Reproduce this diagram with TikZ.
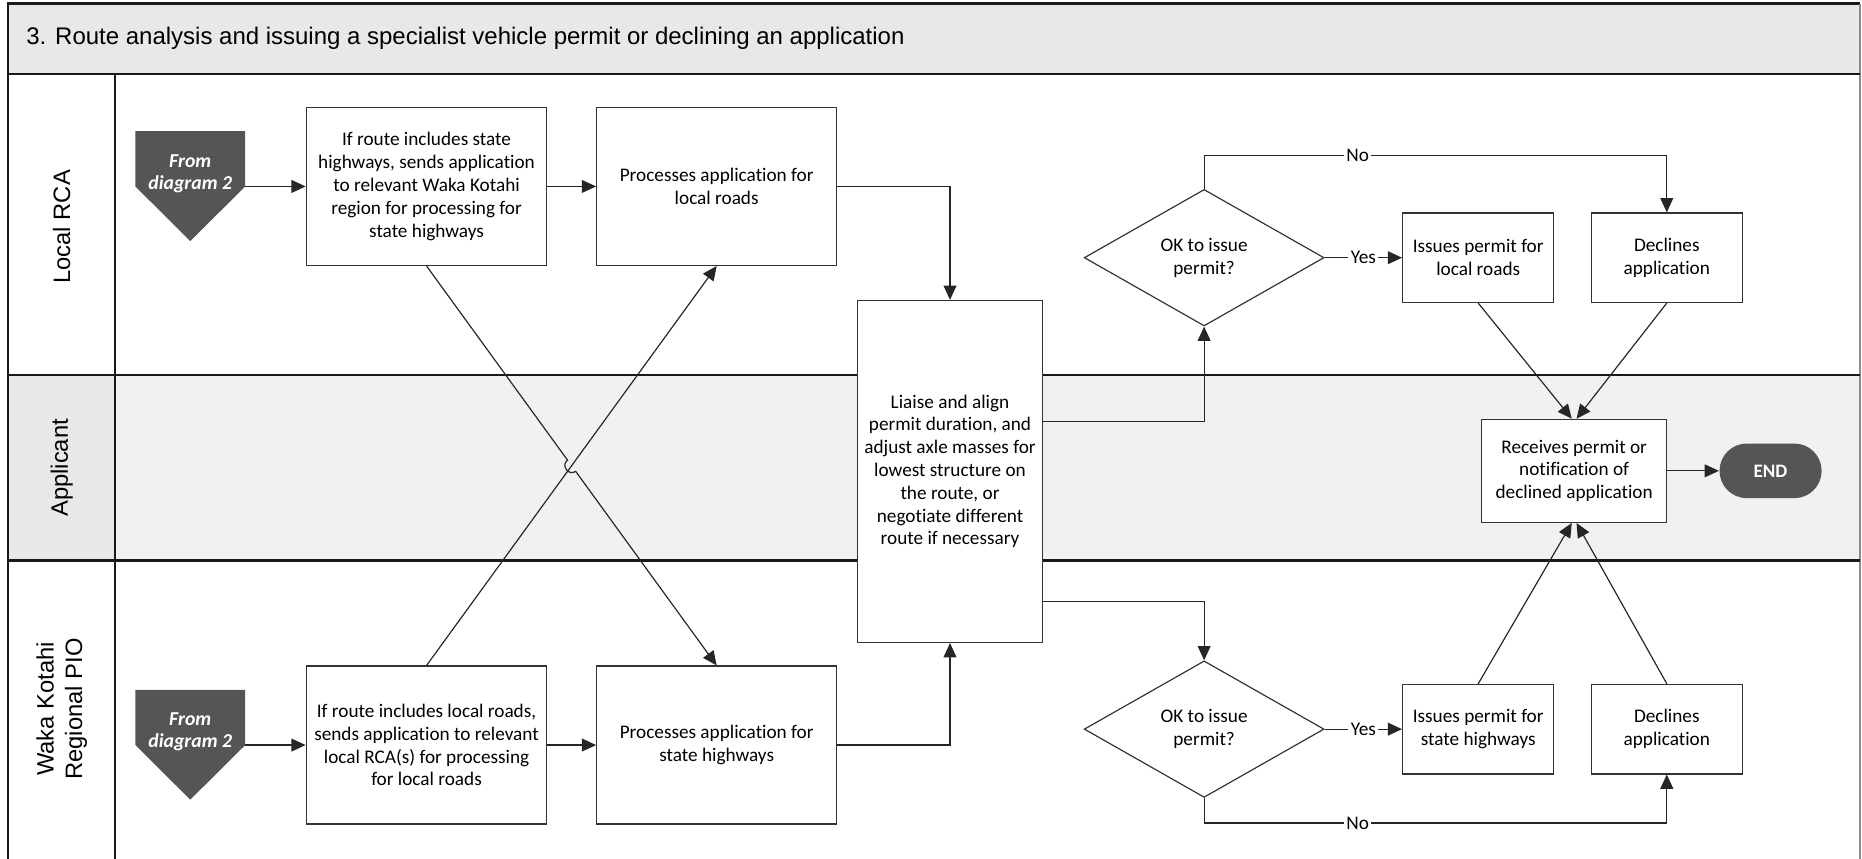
\documentclass[tikz,border=0pt]{standalone}
\usepackage{fontspec}
\setmainfont{Carlito}[Ligatures={NoCommon}]
\newfontfamily\arialfont{Liberation Sans}
\usetikzlibrary{arrows.meta,shapes.geometric,calc}

\definecolor{bandgray}{RGB}{232,232,232}
\definecolor{lanegray}{RGB}{241,241,241}
\definecolor{termgray}{RGB}{85,85,85}

\tikzset{every picture/.style={line width=0.5pt}}
\tikzset{
  procbox/.style={draw=black!80, fill=white, align=center, inner sep=1pt, font=\fontsize{8.1}{9.6}\selectfont},
  decision/.style={draw=black!80, fill=white, diamond, aspect=1.75, align=center, inner sep=0pt, minimum width=101pt, minimum height=57.5pt, font=\fontsize{8.1}{9.6}\selectfont},
  flow/.style={draw=black!85, -{Triangle[length=6pt,width=5.4pt]}},
  lbl/.style={fill=white, inner sep=1pt, font=\fontsize{8.1}{9.6}\selectfont},
  lanetxt/.style={rotate=90, align=center, font=\arialfont\fontsize{10}{12}\selectfont},
  fromtxt/.style={text=white, align=center, font=\fontsize{8.3}{9.3}\selectfont\bfseries\itshape},
  endterm/.style={fill=termgray, rounded corners=11.5pt, minimum width=43pt, minimum height=23pt, text=white, font=\fontsize{8}{9}\selectfont\bfseries},
  laneline/.style={line width=0.9pt, draw=black!90},
}

\begin{document}
\begin{tikzpicture}[x=0.5pt,y=0.5pt,yscale=-1]
\useasboundingbox (0,0) rectangle (1568,723);

%Shape: Title band and lanes
\fill[bandgray] (7,3) rectangle (1566.5,62);
\fill[lanegray] (97,316) rectangle (1566.5,472);
\fill[bandgray] (7,316) rectangle (97,472);
\draw[laneline] (7,723) -- (7,3) -- (1566.5,3);
\draw[line width=0.9pt, draw=black!45] (1566.5,3) -- (1566.5,723);
\draw[laneline] (7,62) -- (1566.5,62);
\draw[laneline] (7,316) -- (1566.5,316);
\draw[laneline] (7,472) -- (1566.5,472);
\draw[laneline] (97,62) -- (97,723);

% Text Node
\node[anchor=west, font=\arialfont\fontsize{10.1}{12}\selectfont] (title) at (15,32) {3. Route analysis and issuing a specialist vehicle permit or declining an application};
% Text Node
\node[lanetxt] (lrca) at (52,191) {Local RCA};
\node[lanetxt] (appl) at (52,394) {Applicant};
\node[lanetxt] (waka) at (52,597) {Waka Kotahi\\Regional PIO};

%Shape: Off-page connectors
\fill[termgray] (114,110.5) -- (206.5,110.5) -- (206.5,157) -- (160.2,203) -- (114,157) -- cycle;
\node[fromtxt] (from1) at (160.2,146) {From\\diagram 2};
\coordinate (from1out) at (206.5,157);
\fill[termgray] (114,581) -- (206.5,581) -- (206.5,627.4) -- (160.2,673.4) -- (114,627.4) -- cycle;
\node[fromtxt] (from2) at (160.2,616.4) {From\\diagram 2};
\coordinate (from2out) at (206.5,627.4);

%Shape: Process boxes
\node[procbox, minimum width=101.3pt, minimum height=66.5pt] (a1) at (359.2,157) {If route includes state\\highways, sends application\\to relevant Waka Kotahi\\region for processing for\\state highways};
\node[procbox, minimum width=101pt, minimum height=66.5pt] (a2) at (603.5,157) {Processes application for\\local roads};
\node[procbox, minimum width=101.3pt, minimum height=66.5pt] (b1) at (359.2,627.4) {If route includes local roads,\\sends application to relevant\\local RCA(s) for processing\\for local roads};
\node[procbox, minimum width=101pt, minimum height=66.5pt] (b2) at (603.5,627.4) {Processes application for\\state highways};
\node[procbox, minimum width=78pt, minimum height=144pt] (liaise) at (800,397) {Liaise and align\\permit duration, and\\adjust axle masses for\\lowest structure on\\the route, or\\negotiate different\\route if necessary};

%Shape: Decisions
\node[decision] (d1) at (1014,217) {OK to issue\\permit?};
\node[decision] (d2) at (1014,614) {OK to issue\\permit?};

\node[procbox, minimum width=63.6pt, minimum height=37.7pt] (iss1) at (1244.8,217) {Issues permit for\\local roads};
\node[procbox, minimum width=63.6pt, minimum height=37.7pt] (decl1) at (1403.6,217) {Declines\\application};
\node[procbox, minimum width=63.6pt, minimum height=37.7pt] (iss2) at (1244.8,614) {Issues permit for\\state highways};
\node[procbox, minimum width=63.6pt, minimum height=37.7pt] (decl2) at (1403.6,614) {Declines\\application};
\node[procbox, minimum width=78pt, minimum height=43.4pt] (recv) at (1325.6,396.5) {Receives permit or\\notification of\\declined application};
\node[endterm] (fin) at (1491,396.5) {END};

%Straight Lines
\draw[flow] (from1out) -- (a1);
\draw[flow] (a1) -- (a2);
\draw[flow] (from2out) -- (b1);
\draw[flow] (b1) -- (b2);
\draw[flow] (a2.east) -| (liaise.north);
\draw[flow] (b2.east) -| (liaise.south);
\draw[flow] (b1.north) -- (a2.south);
\draw[flow] (a1.south) -- ($(a1.south)!0.486!(b2.north)$) to[bend left=90,looseness=1.6] ($(a1.south)!0.514!(b2.north)$) -- (b2.north);
\draw[flow] ($(liaise.north east)!0.354!(liaise.south east)$) -| (d1.south);
\draw[flow] ($(liaise.north east)!0.878!(liaise.south east)$) -| (d2.north);

\draw[flow] (d1.east) -- node[lbl]{Yes} (iss1.west);
\draw[flow] (d1.north) -- ++(0,-28) -| node[lbl,pos=0.166]{No} (decl1.north);
\draw[flow] (d2.east) -- node[lbl]{Yes} (iss2.west);
\draw[flow] (d2.south) -- ++(0,21) -| node[lbl,pos=0.166]{No} (decl2.south);

\draw[flow] (iss1.south) -- ($(recv.north)+(-2,0)$);
\draw[flow] (decl1.south) -- ($(recv.north)+(2,0)$);
\draw[flow] (iss2.north) -- ($(recv.south)+(-2,0)$);
\draw[flow] (decl2.north) -- ($(recv.south)+(2,0)$);
\draw[flow] (recv) -- (fin);
\end{tikzpicture}
\end{document}
